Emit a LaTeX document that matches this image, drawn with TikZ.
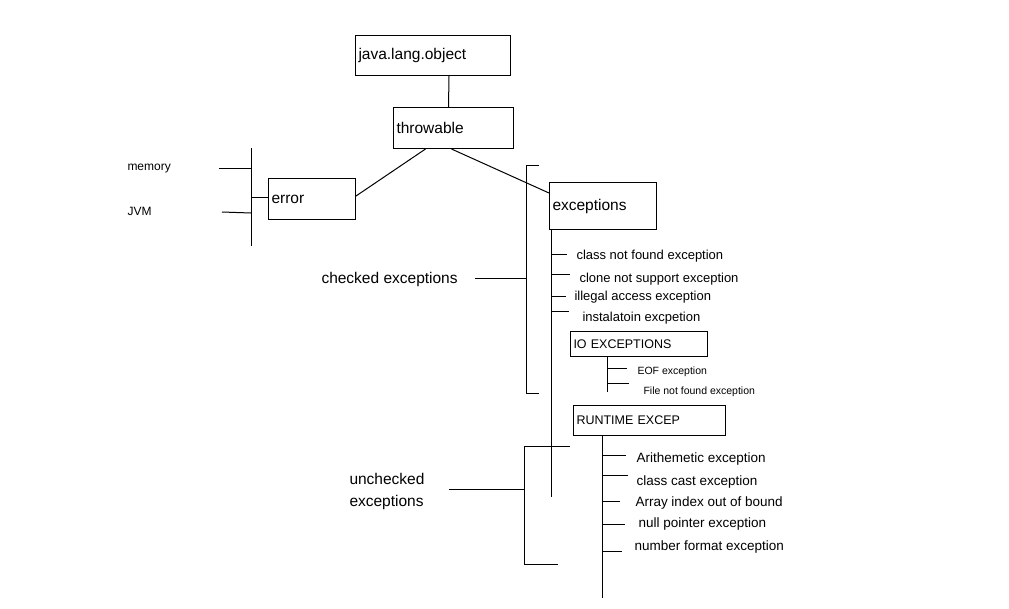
\documentclass[tikz,border=0pt]{standalone}
\usepackage{fontspec}
\setmainfont{Liberation Sans}
\begin{document}
\begin{tikzpicture}[x=1pt,y=-1pt,line width=1pt,
  box/.style={draw,rectangle,anchor=north west,inner xsep=3pt,inner ysep=0pt,align=left},
  big/.style={font=\fontsize{15.5}{22}\selectfont},
  mid/.style={font=\fontsize{12.5}{15}\selectfont},
  txt/.style={anchor=base west,inner sep=0pt},
  item/.style={txt,font=\fontsize{13}{15}\selectfont},
  rit/.style={txt,font=\fontsize{13.5}{15}\selectfont},
  small/.style={txt,font=\fontsize{10.5}{12}\selectfont},
  side/.style={txt,font=\fontsize{12}{14}\selectfont}]
\useasboundingbox[fill=white] (0,0) rectangle (1009,608);

% boxes
\node[box,big,text width=149pt,minimum height=40pt] (java) at (355,35) {java.lang.object};
\node[box,big,text width=114pt,minimum height=41pt] (throw) at (393,107) {throwable};
\node[box,big,text width=81pt,minimum height=41pt] (error) at (268,178) {error};
\node[box,big,text width=101pt,minimum height=47pt] (exc) at (549,182) {exceptions};
\node[box,mid,text width=131pt,minimum height=25pt] (io) at (570,331) {IO EXCEPTIONS};
\node[box,mid,text width=146pt,minimum height=30pt] (rt) at (573,405) {RUNTIME EXCEP};

% labels
\node[side] (mem) at (127,170) {memory};
\node[side] (jvm) at (127,215) {JVM};
\node[txt,big] (chk) at (321,283) {checked exceptions};
\node[txt,big,align=left,anchor=north west] (unchk) at (349,473) {unchecked\\exceptions};

\node[item] (i1) at (576,259) {class not found exception};
\node[item] (i2) at (579,282) {clone not support exception};
\node[item] (i3) at (574,300) {illegal access exception};
\node[item] (i4) at (582,321) {instalatoin excpetion};
\node[small] (e1) at (637,374) {EOF exception};
\node[small] (e2) at (643,394) {File not found exception};
\node[rit] (r1) at (636,462) {Arithemetic exception};
\node[rit] (r2) at (636,485) {class cast exception};
\node[rit] (r3) at (635,506) {Array index out of bound};
\node[rit] (r4) at (638,527) {null pointer exception};
\node[rit] (r5) at (634,550) {number format exception};

% coordinates
\coordinate (ebT) at (251,148);
\coordinate (ebB) at (251,246);
\coordinate (m1) at (219,168);
\coordinate (j1) at (222,212);
\coordinate (es) at (551,497);
\coordinate (ios) at (607,392);
\coordinate (rs) at (602,598);
\coordinate (cT) at (526,165);
\coordinate (cB) at (526,393);
\coordinate (uT) at (524,446);
\coordinate (uB) at (524,564);

% tree connectors
\draw ([xshift=16pt]java.south) -- ([xshift=-5pt]throw.north);
\draw ([xshift=-28pt]throw.south) -- ([yshift=3pt]error.east);
\draw ([xshift=-2pt]throw.south) -- ([yshift=-11pt]exc.north west);

% error bracket
\draw (ebT) -- (ebB);
\draw ([yshift=2pt]error.west) -- ([yshift=2pt]error.west -| ebT);
\draw (m1) -- (m1 -| ebT);
\draw (j1) -- (251,213);

% exceptions stem
\draw (exc.south west -| es) -- (es);
\draw (551,254) -- (567,254);
\draw (551,274) -- (570,274);
\draw (551,296) -- (566,296);
\draw (551,311) -- (569,311);

% IO stem
\draw (io.south -| ios) -- (ios);
\draw (607,368) -- (627,368);
\draw (607,383) -- (629,383);

% runtime stem
\draw (rt.south -| rs) -- (rs);
\draw (602,455) -- (626,455);
\draw (602,475) -- (628,475);
\draw (602,501) -- (620,501);
\draw (602,524) -- (625,524);
\draw (602,551) -- (622,551);

% checked bracket
\draw (539,165) -- (cT) -- (cB) -- (539,393);
\draw ([xshift=17pt]chk.east) -- (chk.east -| cT);

% unchecked bracket
\draw (570,446) -- (uT) -- (uB) -- (558,564);
\draw ([xshift=24pt,yshift=2pt]unchk.east) -- ([yshift=2pt]unchk.east -| uT);
\end{tikzpicture}
\end{document}
